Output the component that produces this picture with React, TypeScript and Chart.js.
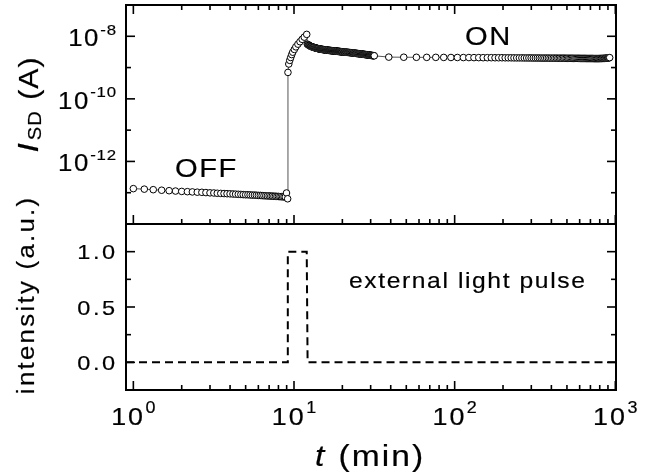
import React, { useEffect, useRef } from 'react';
import { Chart, registerables } from 'chart.js';

Chart.register(...registerables);

// ---------------- data ----------------
// OFF state (dark), current in units of 1e-13 A
const T_OFF = [1.00, 1.17, 1.33, 1.50, 1.67, 1.83, 2.00, 2.17, 2.33, 2.50, 2.67, 2.83, 3.00, 3.17, 3.33, 3.50, 3.67, 3.83, 4.00, 4.17, 4.33, 4.50, 4.67, 4.83, 5.00, 5.17, 5.33, 5.50, 5.67, 5.83, 6.00, 6.17, 6.33, 6.50, 6.67, 6.83, 7.00, 7.17, 7.33, 7.50, 7.67, 7.83, 8.00, 8.17, 8.33, 8.50, 8.67, 8.83, 8.98, 9.13];
const I_OFF = [1.35, 1.30, 1.25, 1.20, 1.16, 1.13, 1.10, 1.08, 1.06, 1.04, 1.03, 1.01, 0.99, 0.98, 0.96, 0.95, 0.94, 0.93, 0.92, 0.91, 0.90, 0.89, 0.88, 0.87, 0.86, 0.86, 0.85, 0.84, 0.84, 0.83, 0.82, 0.82, 0.81, 0.80, 0.80, 0.79, 0.79, 0.78, 0.78, 0.77, 0.77, 0.76, 0.76, 0.75, 0.75, 0.74, 0.74, 0.73, 0.98, 0.64];
// rise under illumination, units of 1e-9 A
const T_RISE = [9.17, 9.28, 9.41, 9.54, 9.68, 9.82, 10.05, 10.27, 10.58, 10.90, 11.24, 11.58, 12.0];
const I_RISE = [0.70, 1.30, 1.70, 2.10, 2.60, 3.10, 3.80, 4.60, 5.60, 6.70, 8.00, 9.40, 11.5];
// decay after the pulse, units of 1e-9 A
const T_DECAY = [
  12.1, 12.2, 12.3, 12.4, 12.5, 12.6, 12.7, 12.8, 12.9, 13.0, 13.1, 13.2, 13.3, 13.4, 13.5, 13.6, 13.7, 13.8, 13.9, 14.0,
  14.1, 14.2, 14.3, 14.4, 14.5, 14.6, 14.7, 14.8, 14.9, 15.0, 15.1, 15.2, 15.3, 15.4, 15.5, 15.6, 15.7, 15.8, 15.9, 16.0,
  16.1, 16.2, 16.3, 16.4, 16.5, 16.6, 16.7, 16.8, 16.9, 17.0, 17.1, 17.2, 17.3, 17.4, 17.5, 17.6, 17.7, 17.8, 17.9, 18.0,
  18.1, 18.2, 18.3, 18.4, 18.5, 18.6, 18.7, 18.8, 18.9, 19.0, 19.1, 19.2, 19.3, 19.4, 19.5, 19.6, 19.7, 19.8, 19.9, 20.0,
  20.2, 20.4, 20.6, 20.8, 21.0, 21.2, 21.4, 21.6, 21.8, 22.0, 22.2, 22.4, 22.6, 22.8, 23.0, 23.2, 23.4, 23.6, 23.8, 24.0,
  24.2, 24.4, 24.6, 24.8, 25.0, 25.2, 25.4, 25.6, 25.8, 26.0, 26.2, 26.4, 26.6, 26.8, 27.0, 27.2, 27.4, 27.6, 27.8, 28.0,
  28.2, 28.4, 28.6, 28.8, 29.0, 29.2, 29.4, 29.6, 29.8, 30.0, 30.2, 30.4, 30.6, 30.8, 31.0, 31.2, 31.4, 31.6];
const I_DECAY = [
  5.60, 5.45, 5.30, 5.15, 5.00, 4.90, 4.80, 4.72, 4.65, 4.57, 4.50, 4.45, 4.40, 4.35, 4.30, 4.25, 4.20, 4.16, 4.12, 4.08,
  4.05, 4.01, 3.98, 3.95, 3.92, 3.89, 3.87, 3.84, 3.82, 3.80, 3.78, 3.76, 3.74, 3.72, 3.70, 3.68, 3.66, 3.64, 3.63, 3.61,
  3.60, 3.59, 3.57, 3.56, 3.55, 3.54, 3.52, 3.51, 3.50, 3.49, 3.48, 3.46, 3.45, 3.44, 3.43, 3.42, 3.41, 3.40, 3.39, 3.38,
  3.37, 3.36, 3.35, 3.34, 3.33, 3.32, 3.31, 3.30, 3.29, 3.28, 3.27, 3.26, 3.25, 3.24, 3.23, 3.22, 3.21, 3.20, 3.20, 3.19,
  3.17, 3.16, 3.14, 3.13, 3.11, 3.09, 3.08, 3.06, 3.05, 3.03, 3.01, 3.00, 2.98, 2.97, 2.95, 2.93, 2.92, 2.90, 2.89, 2.87,
  2.86, 2.84, 2.83, 2.81, 2.80, 2.78, 2.77, 2.76, 2.74, 2.73, 2.72, 2.70, 2.69, 2.67, 2.66, 2.65, 2.63, 2.62, 2.61, 2.59,
  2.58, 2.57, 2.56, 2.54, 2.53, 2.52, 2.50, 2.49, 2.48, 2.47, 2.46, 2.44, 2.43, 2.42, 2.41, 2.40, 2.39, 2.38];
// persistent ON state, units of 1e-9 A
const T_ON = [38.9, 48.2, 57.8, 67, 76.3, 85.5, 94.8, 104, 113.3, 122.6, 131.9, 141.2, 150.5, 159.8, 169.1, 178.4, 187.7, 197, 206.3, 215.6, 224.9, 234.2, 243.5, 252.8, 262.1, 271.4, 280.7, 290, 299.3, 308.6, 317.9, 327.2, 336.5, 345.8, 355.1, 364.4, 373.7, 383, 392.3, 401.6, 410.9, 420.2, 429.5, 438.8, 448.1, 457.4, 466.7, 476, 485.3, 494.6, 503.9, 513.2, 522.5, 531.8, 541.1, 550.4, 559.7, 569, 578.3, 587.6, 596.9, 606.2, 615.5, 624.8, 634.1, 643.4, 652.7, 662, 671.3, 680.6, 689.9, 699.2, 708.5, 717.8, 727.1, 736.4, 745.7, 755, 764.3, 773.6, 782.9, 792.2, 801.5, 810.8, 820.1, 829.4, 838.7, 848, 857.3, 866.6, 875.9, 885.2, 894.5, 903.8, 913.1, 922.4];
const I_ON = [2.16, 2.14, 2.13, 2.12, 2.12, 2.11, 2.10, 2.10, 2.09, 2.09, 2.08, 2.08, 2.07, 2.07, 2.07, 2.06, 2.06, 2.06, 2.05, 2.05, 2.05, 2.04, 2.04, 2.04, 2.04, 2.03, 2.03, 2.03, 2.03, 2.02, 2.02, 2.02, 2.02, 2.01, 2.01, 2.01, 2.01, 2.01, 2.00, 2.00, 2.00, 2.00, 2.00, 1.99, 1.99, 1.99, 1.99, 1.99, 1.99, 1.98, 1.98, 1.98, 1.98, 1.98, 1.98, 1.97, 1.97, 1.97, 1.97, 1.97, 1.97, 1.96, 1.96, 1.96, 1.96, 1.96, 1.96, 1.95, 1.95, 1.95, 1.95, 1.95, 1.95, 1.95, 1.95, 1.94, 1.94, 1.94, 1.94, 1.94, 1.94, 1.94, 1.95, 1.95, 1.95, 1.96, 1.96, 1.97, 1.97, 1.98, 1.99, 2.00, 2.01, 2.02, 2.04, 2.08];
// light pulse
const T_PULSE = [0.9, 9.15, 9.15, 12.0, 12.15, 1010];
const PULSE = [0, 0, 1, 1, 0, 0];

// ticks
const X_MAJOR = [1, 10, 100, 1000];
const X_MINOR = [2, 3, 4, 5, 6, 7, 8, 9, 20, 30, 40, 50, 60, 70, 80, 90, 200, 300, 400, 500, 600, 700, 800, 900];
const X_LABEL_EXP = ['0', '1', '2', '3'];
const Y_MAJOR = [1e-8, 1e-10, 1e-12];
const Y_MINOR = [1e-9, 1e-11, 1e-13];
const Y_LABEL_EXP = ['-8', '-10', '-12'];
const Y2_MAJOR = [0, 0.5, 1.0];
const Y2_MINOR = [0.25, 0.75];
const Y2_LABELS = ['0.0', '0.5', '1.0'];

const FONT = '"Liberation Sans", Arial, Helvetica, sans-serif';
const SX = 1.12; // horizontal widening of glyphs, as in the original figure
const BOLDEN = 0.2;

function measure(ctx: CanvasRenderingContext2D, s: string, size: number, spacing: number, style = '') {
  ctx.font = `${style} ${size}px ${FONT}`.trim();
  (ctx as any).letterSpacing = '0px';
  return ctx.measureText(s).width * SX + spacing * (s.length - 1);
}

function spaced(ctx: CanvasRenderingContext2D, s: string, x: number, y: number, size: number, spacing: number, align: string, style = '') {
  const w = measure(ctx, s, size, spacing, style);
  const x0 = align === 'right' ? x - w : align === 'center' ? x - w / 2 : x;
  ctx.save();
  ctx.translate(x0, y);
  ctx.scale(SX, 1);
  (ctx as any).letterSpacing = `${spacing / SX}px`;
  ctx.textAlign = 'left';
  ctx.textBaseline = 'alphabetic';
  ctx.lineWidth = BOLDEN;
  ctx.lineJoin = 'round';
  ctx.fillText(s, 0, 0);
  ctx.strokeText(s, 0, 0);
  ctx.restore();
  return w;
}

function powLabel(ctx: CanvasRenderingContext2D, base: string, exp: string, x: number, y: number, bs: number, es: number, sp: number, rise: number, align: string) {
  const wb = measure(ctx, base, bs, sp);
  const we = measure(ctx, exp, es, sp * 0.5);
  const gap = sp + 0.5;
  const total = wb + gap + we;
  const x0 = align === 'right' ? x - total : align === 'center' ? x - total / 2 : x;
  spaced(ctx, base, x0, y, bs, sp, 'left');
  spaced(ctx, exp, x0 + wb + gap, y - rise, es, sp * 0.5, 'left');
}

const framePlugin = {
  id: 'framePlugin',
  afterDraw(chart: any) {
    const ctx: CanvasRenderingContext2D = chart.ctx;
    const xs = chart.scales.x;
    const ys = chart.scales.y;
    const y2s = chart.scales.y2;
    const L = chart.chartArea.left;
    const R = chart.chartArea.right;
    const top1 = ys.top, bot1 = ys.bottom, bot2 = y2s.bottom;
    ctx.save();
    ctx.strokeStyle = '#000';
    ctx.fillStyle = '#000';
    // frame
    ctx.lineWidth = 2;
    ctx.strokeRect(L, top1, R - L, bot2 - top1);
    ctx.beginPath();
    ctx.moveTo(L, bot1);
    ctx.lineTo(R, bot1);
    ctx.stroke();
    // ticks
    ctx.lineWidth = 1.6;
    const line = (x1: number, y1: number, x2: number, y2: number) => {
      ctx.beginPath();
      ctx.moveTo(x1, y1);
      ctx.lineTo(x2, y2);
      ctx.stroke();
    };
    const xt = (v: number, len: number) => {
      const px = xs.getPixelForValue(v);
      line(px, top1, px, top1 + len);
      line(px, bot1, px, bot1 - len);
      line(px, bot2, px, bot2 - len);
    };
    X_MAJOR.forEach((v) => xt(v, 9));
    X_MINOR.forEach((v) => xt(v, 5));
    const yt = (sc: any, v: number, len: number) => {
      const py = sc.getPixelForValue(v);
      line(L, py, L + len, py);
      line(R, py, R - len, py);
    };
    Y_MAJOR.forEach((v) => yt(ys, v, 9));
    Y_MINOR.forEach((v) => yt(ys, v, 5));
    Y2_MAJOR.forEach((v) => yt(y2s, v, 9));
    Y2_MINOR.forEach((v) => yt(y2s, v, 5));

    // tick labels
    Y_MAJOR.forEach((v, i) => {
      const py = ys.getPixelForValue(v);
      powLabel(ctx, '10', Y_LABEL_EXP[i], 116, py + 10, 23, 15, 1.5, 11.5, 'right');
    });
    Y2_MAJOR.forEach((v, i) => {
      const py = y2s.getPixelForValue(v);
      spaced(ctx, Y2_LABELS[i], 115, py + 7.5, 21, 2.5, 'right');
    });
    X_MAJOR.forEach((v, i) => {
      const px = xs.getPixelForValue(v);
      powLabel(ctx, '10', X_LABEL_EXP[i], px, 425, 24, 16, 2, 12, 'center');
    });

    // axis titles
    {
      const wT = measure(ctx, 't', 30, 2, 'italic');
      const wR = measure(ctx, ' (min)', 30, 2);
      const total = wT + 3 + wR;
      const x0 = 369 - total / 2;
      spaced(ctx, 't', x0, 466, 30, 2, 'left', 'italic');
      spaced(ctx, ' (min)', x0 + wT + 3, 466, 30, 2, 'left');
    }
    {
      const wI = measure(ctx, 'I', 30, 1, 'italic');
      const wS = measure(ctx, 'SD', 18, 1);
      const wA = measure(ctx, ' (A)', 27, 1);
      const total = wI + 3 + wS + 2 + wA;
      ctx.save();
      ctx.translate(38, 105 + total / 2);
      ctx.rotate(-Math.PI / 2);
      spaced(ctx, 'I', 0, 0, 30, 1, 'left', 'italic');
      spaced(ctx, 'SD', wI + 3, 3, 18, 1, 'left');
      spaced(ctx, ' (A)', wI + 3 + wS + 2, 0, 27, 1, 'left');
      ctx.restore();
    }
    {
      ctx.save();
      ctx.translate(34, 296);
      ctx.rotate(-Math.PI / 2);
      spaced(ctx, 'intensity (a.u.)', 0, 0, 23, 2.3, 'center');
      ctx.restore();
    }

    // annotations
    spaced(ctx, 'OFF', 175, 177, 26, 1.5, 'left');
    spaced(ctx, 'ON', 465, 45, 26, 1.5, 'left');
    spaced(ctx, 'external light pulse', 349, 288, 22, 1.6, 'left');
    ctx.restore();
  },
};

export default function App() {
  const canvasRef = useRef<HTMLCanvasElement | null>(null);

  useEffect(() => {
    const canvas = canvasRef.current;
    if (!canvas) return;
    const upper = [
      ...T_OFF.map((t, i) => ({ x: t, y: I_OFF[i] * 1e-13 })),
      ...T_RISE.map((t, i) => ({ x: t, y: I_RISE[i] * 1e-9 })),
      ...T_DECAY.map((t, i) => ({ x: t, y: I_DECAY[i] * 1e-9 })),
      ...T_ON.map((t, i) => ({ x: t, y: I_ON[i] * 1e-9 })),
    ];
    const pulse = T_PULSE.map((t, i) => ({ x: t, y: PULSE[i] }));

    const chart = new Chart(canvas, {
      type: 'scatter',
      data: {
        datasets: [
          {
            label: 'I_SD',
            data: upper,
            xAxisID: 'x',
            yAxisID: 'y',
            showLine: true,
            borderColor: '#555555',
            borderWidth: 1,
            pointRadius: 3.3,
            pointBorderWidth: 1,
            pointBackgroundColor: '#ffffff',
            pointBorderColor: '#000000',
            pointHoverRadius: 3.3,
          },
          {
            label: 'intensity',
            data: pulse,
            xAxisID: 'x',
            yAxisID: 'y2',
            showLine: true,
            borderColor: '#000000',
            borderWidth: 2,
            borderDash: [8, 5],
            pointRadius: 0,
            pointHoverRadius: 0,
          },
        ],
      },
      options: {
        responsive: false,
        maintainAspectRatio: false,
        animation: false,
        devicePixelRatio: 1,
        events: [],
        layout: { padding: { left: 126, right: 36, top: 5, bottom: 84 } },
        plugins: {
          legend: { display: false },
          tooltip: { enabled: false },
        },
        scales: {
          x: { type: 'logarithmic', min: 0.9, max: 1010, display: false },
          y: {
            type: 'logarithmic',
            min: 1e-14,
            max: 1e-7,
            display: false,
            position: 'left',
            stack: 'panels',
            stackWeight: 219,
            weight: 2,
          },
          y2: {
            type: 'linear',
            min: -0.25,
            max: 1.25,
            display: false,
            position: 'left',
            stack: 'panels',
            stackWeight: 166,
            weight: 1,
          },
        },
      } as any,
      plugins: [framePlugin],
    });
    return () => chart.destroy();
  }, []);

  return (
    <div style={{ position: 'fixed', left: 0, top: 0, width: 652, height: 474, background: '#ffffff' }}>
      <canvas ref={canvasRef} width={652} height={474} style={{ display: 'block', width: 652, height: 474 }} />
    </div>
  );
}
